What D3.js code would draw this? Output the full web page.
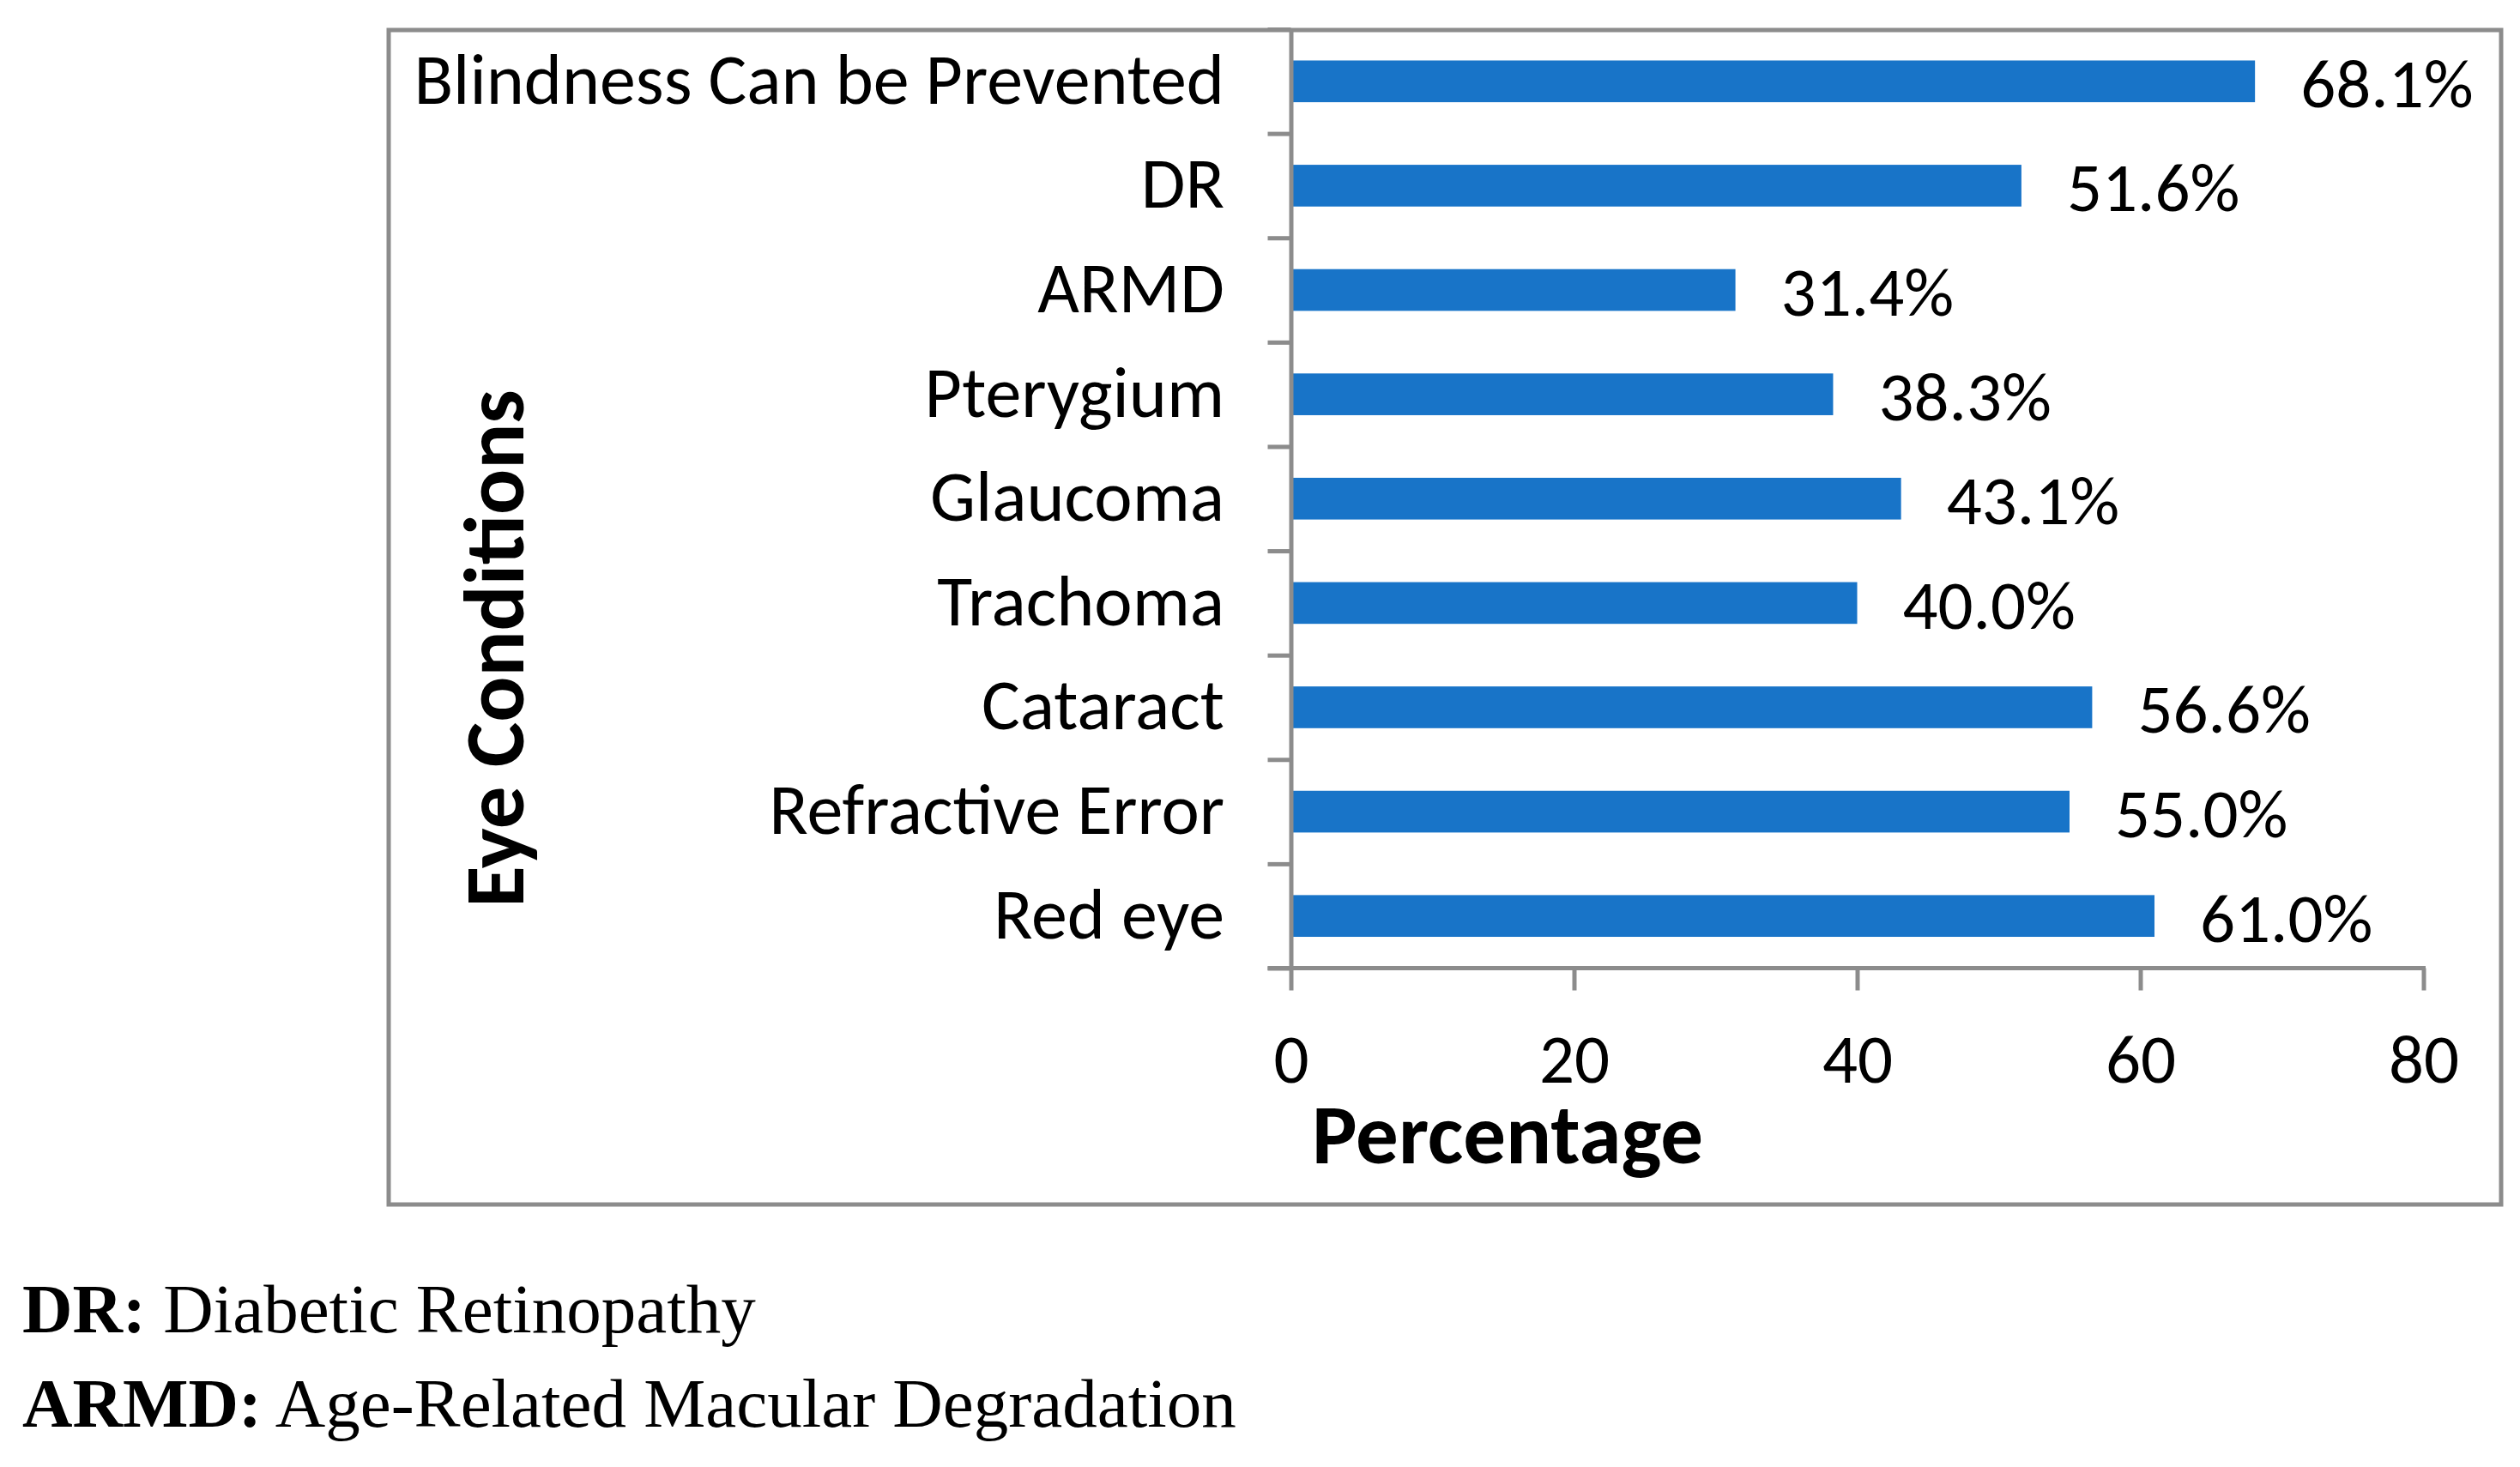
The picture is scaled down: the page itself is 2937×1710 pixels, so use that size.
<!DOCTYPE html>
<html>
<head>
<meta charset="utf-8">
<script src="https://cdn.jsdelivr.net/npm/d3@7"></script>
<style>
  html, body { margin: 0; padding: 0; background: #fff; }
  svg { display: block; }
</style>
</head>
<body>
<div id="chart"></div>
<script>
// Data
const categories = ['Blindness Can be Prevented', 'DR', 'ARMD', 'Pterygium', 'Glaucoma',
  'Trachoma', 'Cataract', 'Refractive Error', 'Red eye'];
const values = [68.1, 51.6, 31.4, 38.3, 43.1, 40.0, 56.6, 55.0, 61.0];
const xTicks = [0, 20, 40, 60, 80];
const notes = [
  { abbr: 'DR:', text: ' Diabetic Retinopathy' },
  { abbr: 'ARMD:', text: ' Age-Related Macular Degradation' }
];

const W = 2937, H = 1710;
const grey = '#8c8c8c';
const barColor = '#1874c8';
const sans = 'Carlito, Lato, "Open Sans", sans-serif';
const serif = '"Book Antiqua", Palatino, "Liberation Serif", serif';
const fs = 81;

const svg = d3.select('#chart').append('svg')
  .attr('width', W).attr('height', H)
  .attr('viewBox', `0 0 ${W} ${H}`);

// Chart frame
svg.append('rect')
  .attr('x', 453).attr('y', 35).attr('width', 2462).attr('height', 1369)
  .attr('fill', '#fff').attr('stroke', grey).attr('stroke-width', 5);

const plot = { left: 1504.5, right: 2824.5, top: 34, bottom: 1128.5 };

const x = d3.scaleLinear().domain([0, 80]).range([plot.left, plot.right]);
const y = d3.scaleBand().domain(categories)
  .range([plot.top, plot.bottom])
  .paddingInner(0.6).paddingOuter(0.3);

// band boundaries for y ticks
const yEdge = d3.scaleLinear().domain([0, categories.length]).range([plot.top, plot.bottom]);

// Bars
svg.append('g').selectAll('rect')
  .data(categories)
  .join('rect')
  .attr('x', x(0) + 2.5)
  .attr('y', d => y(d))
  .attr('width', (d, i) => x(values[i]) - x(0) - 2.5)
  .attr('height', y.bandwidth())
  .attr('fill', barColor);

// Value labels
svg.append('g').selectAll('text')
  .data(categories)
  .join('text')
  .attr('x', (d, i) => x(values[i]) + 53)
  .attr('y', d => y(d) + y.bandwidth() / 2 + 30)
  .attr('font-family', sans).attr('font-size', fs).attr('fill', '#000')
  .text((d, i) => values[i].toFixed(1) + '%');

// Y axis (ticks at category boundaries)
const yAxis = svg.append('g')
  .attr('transform', `translate(${plot.left},0)`)
  .call(d3.axisLeft(yEdge).tickValues(d3.range(0, categories.length + 1))
    .tickSize(27).tickSizeOuter(0).tickFormat(''));
yAxis.select('.domain').attr('stroke', grey).attr('stroke-width', 5);
yAxis.selectAll('.tick line').attr('stroke', grey).attr('stroke-width', 5);

// Category labels
svg.append('g').selectAll('text')
  .data(categories)
  .join('text')
  .attr('x', 1427)
  .attr('y', d => y(d) + y.bandwidth() / 2 + 26)
  .attr('text-anchor', 'end')
  .attr('font-family', sans).attr('font-size', 84).attr('fill', '#000')
  .text(d => d);

// X axis
const xAxis = svg.append('g')
  .attr('transform', `translate(0,${plot.bottom})`)
  .call(d3.axisBottom(x).tickValues(xTicks).tickSize(26).tickSizeOuter(0));
xAxis.select('.domain').attr('stroke', grey).attr('stroke-width', 5)
  .attr('d', `M${plot.left - 27},0H${plot.right + 2.5}`);
xAxis.selectAll('.tick line').attr('stroke', grey).attr('stroke-width', 5);
xAxis.selectAll('.tick text')
  .attr('y', 133).attr('dy', 0)
  .attr('font-family', sans).attr('font-size', fs).attr('fill', '#000');

// Axis titles
svg.append('text')
  .attr('x', 1529).attr('y', 1356)
  .attr('font-family', sans).attr('font-size', 99).attr('font-weight', 'bold')
  .attr('fill', '#000')
  .text('Percentage');

svg.append('text')
  .attr('transform', 'translate(610,756) rotate(-90)')
  .attr('text-anchor', 'middle')
  .attr('font-family', sans).attr('font-size', 99).attr('font-weight', 'bold')
  .attr('fill', '#000')
  .text('Eye Conditions');

// Footnotes
const noteY = [1553, 1663];
notes.forEach((n, i) => {
  const t = svg.append('text')
    .attr('x', 26).attr('y', noteY[i])
    .attr('font-family', serif).attr('font-size', 81).attr('fill', '#000');
  t.append('tspan').attr('font-weight', 'bold').text(n.abbr);
  t.append('tspan').text(n.text);
});
</script>
</body>
</html>
